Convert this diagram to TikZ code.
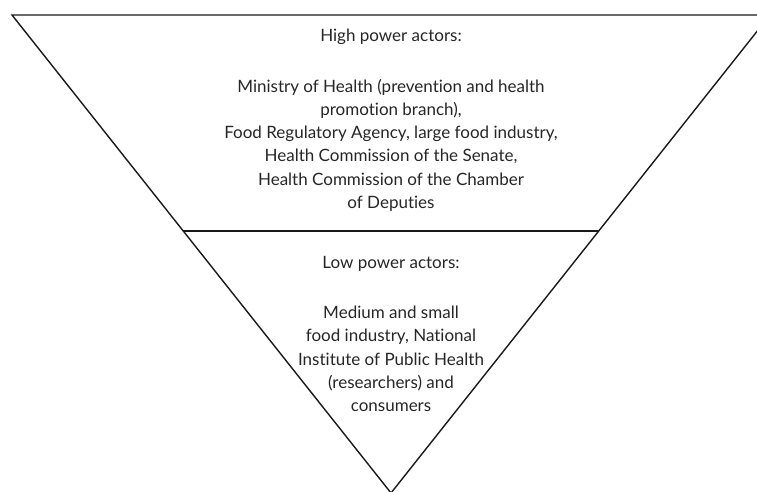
\documentclass[tikz,border=0pt]{standalone}
\usepackage{fontspec}
\setmainfont{Lato}[Ligatures=NoCommon]
\usetikzlibrary{calc}

\tikzstyle{actors}=[align=center,inner sep=0pt,font=\fontsize{17}{23.3}\selectfont,text=black!85]
\tikzstyle{edge}=[line width=1.4pt,draw=black!90]

\begin{document}
\begin{tikzpicture}[x=1pt,y=-1pt]
            \useasboundingbox (0,0) rectangle (757,492);
            \clip (0,0) rectangle (757,492);
            \coordinate (L) at (12,15);
            \coordinate (R) at (770,15);
            \coordinate (T) at (391,493);
            \coordinate (ML) at ($(L)!0.452!(T)$);
            \coordinate (MR) at ($(R)!0.452!(T)$);
            \draw[edge] (L) -- (R) -- (T) -- cycle;
            \draw[edge] (ML) -- (MR);
            \node[actors,anchor=north] (high) at (391,29) {High power actors:\\[27pt]
                Ministry of Health (prevention and health\\
                promotion branch),\\
                Food Regulatory Agency, large food industry,\\
                Health Commission of the Senate,\\
                Health Commission of the Chamber\\
                of Deputies};
            \node[actors,anchor=north] (low) at (391,256) {Low power actors:\\[27pt]
                Medium and small\\
                food industry, National\\
                Institute of Public Health\\
                (researchers) and\\
                consumers};
        \end{tikzpicture}
\end{document}
